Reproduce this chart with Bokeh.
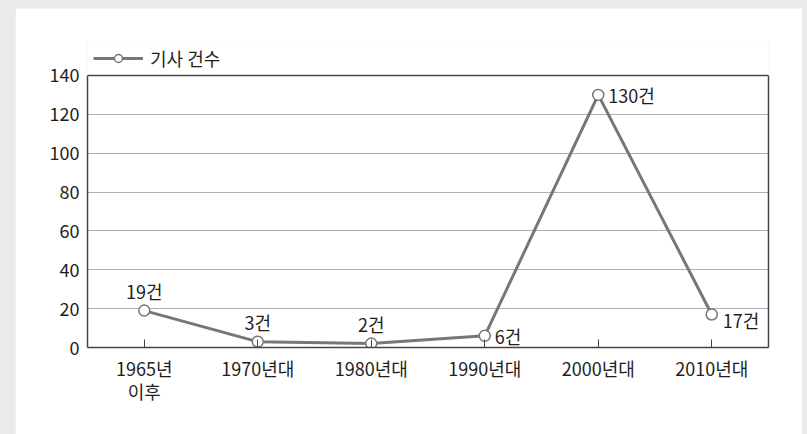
from bokeh.plotting import figure
from bokeh.models import (ColumnDataSource, Legend, LegendItem, FixedTicker, CDSView,
                          IndexFilter, LinearAxis, Span)
from bokeh.core.properties import value
from bokeh.embed import file_html
from bokeh.resources import INLINE

categories = ["1965년\n이후", "1970년대", "1980년대", "1990년대", "2000년대", "2010년대"]
counts = [19, 3, 2, 6, 130, 17]
labels = [f"{c}건" for c in counts]
y_ticks = [0, 20, 40, 60, 80, 100, 120, 140]
series_name = "기사 건수"

FONT = "Noto Sans CJK KR"
TXT = "#1e1e1e"
LINE = "#777777"
FRAME = "#444444"

y_top = y_ticks[-1]
src = ColumnDataSource(dict(x=categories, y=counts, label=labels))

p = figure(x_range=categories, y_range=(0, 158), width=787, height=426,
           output_backend="svg", toolbar_location=None,
           min_border_left=72, min_border_top=32, min_border_right=34, min_border_bottom=87,
           background_fill_color="white", border_fill_color="white")
p.margin = (8, 5, 0, 15)

p.outline_line_color = None
p.xgrid.grid_line_color = None
p.ygrid.ticker = FixedTicker(ticks=y_ticks[1:-1])
p.ygrid.grid_line_color = "#b0b0b0"
p.ygrid.grid_line_width = 1

p.yaxis.ticker = FixedTicker(ticks=y_ticks)
p.yaxis.bounds = (0, y_top)
p.yaxis.major_tick_out = 0
p.yaxis.major_tick_in = 0
p.yaxis.minor_tick_line_color = None
p.yaxis.axis_line_color = FRAME
p.yaxis.axis_line_width = 1.5
p.yaxis.major_label_standoff = 8
p.yaxis.major_label_text_font = FONT
p.yaxis.major_label_text_font_size = "18px"
p.yaxis.major_label_text_color = TXT

right_axis = LinearAxis(ticker=FixedTicker(ticks=[]), bounds=(0, y_top),
                        major_tick_in=0, major_tick_out=0,
                        minor_tick_line_color=None,
                        axis_line_color=FRAME, axis_line_width=1.5)
p.add_layout(right_axis, "right")

p.add_layout(Span(location=y_top, dimension="width", line_color=FRAME, line_width=1.5))

p.xaxis.major_tick_out = 0
p.xaxis.major_tick_in = 8
p.xaxis.major_tick_line_color = FRAME
p.xaxis.axis_line_color = FRAME
p.xaxis.axis_line_width = 1.5
p.xaxis.major_label_standoff = 7
p.xaxis.major_label_text_font = FONT
p.xaxis.major_label_text_font_size = "18px"
p.xaxis.major_label_text_color = TXT
p.xaxis.major_label_text_line_height = 0.92

ln = p.line("x", "y", source=src, line_color=LINE, line_width=3)
sc = p.scatter("x", "y", source=src, size=11, marker="circle",
               fill_color="white", line_color=LINE, line_width=1.5)

above = CDSView(filter=IndexFilter([0, 1, 2]))
p.text("x", "y", text="label", source=src, view=above,
       text_font=value(FONT), text_font_size="18px", text_color=TXT,
       text_align="center", text_baseline="bottom", y_offset=-7)
right = CDSView(filter=IndexFilter([3, 4]))
p.text("x", "y", text="label", source=src, view=right,
       text_font=value(FONT), text_font_size="18px", text_color=TXT,
       text_align="left", text_baseline="middle", x_offset=10)
right2 = CDSView(filter=IndexFilter([5]))
p.text("x", "y", text="label", source=src, view=right2,
       text_font=value(FONT), text_font_size="18px", text_color=TXT,
       text_align="left", text_baseline="middle", x_offset=11, y_offset=6)

legend = Legend(items=[LegendItem(label=series_name, renderers=[ln, sc])],
                location=(6, 276), orientation="horizontal",
                glyph_width=50, glyph_height=20, label_standoff=7,
                label_text_font=FONT, label_text_font_size="18px", label_text_color=TXT,
                border_line_color=None, background_fill_alpha=0,
                padding=0, margin=0)
p.add_layout(legend, "center")

html = file_html(p, INLINE)
html = html.replace("</head>", "<style>html,body{background:#ebebeb !important;margin:0}</style></head>", 1)
open("out.html", "w").write(html)
